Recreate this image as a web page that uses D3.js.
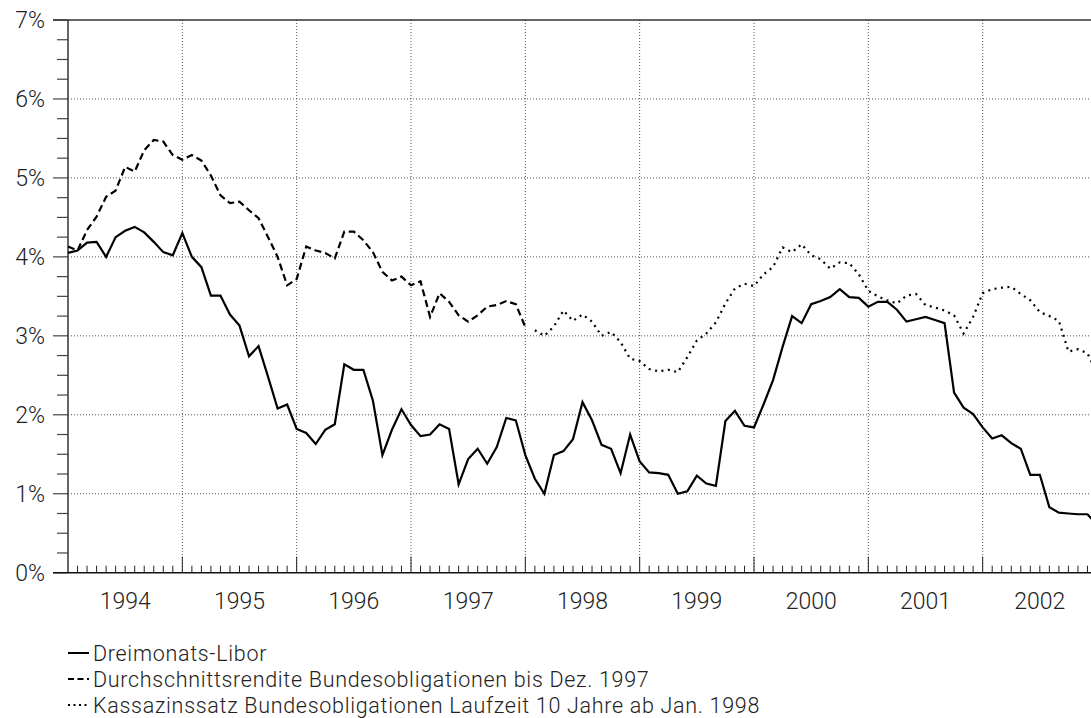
<!DOCTYPE html>
<html>
<head>
<meta charset="utf-8">
<script src="https://cdn.jsdelivr.net/npm/d3@7"></script>
<style>
  body { margin: 0; background: #fff; }
  text { font-family: Roboto, "Liberation Sans", sans-serif; font-weight: 300; fill: #222; }
</style>
</head>
<body>
<svg id="chart"></svg>
<script>
const W = 1091, H = 718;

// monatswerte ab Jan. 1994 (Index 0) bis Jan. 2003 (Index 108)
const liborValues = [
  4.05, 4.08, 4.18, 4.19, 4.00, 4.25, 4.33, 4.38, 4.31, 4.19, 4.06, 4.02,
  4.30, 4.00, 3.87, 3.51, 3.51, 3.27, 3.13, 2.74, 2.87, 2.48, 2.08, 2.13,
  1.82, 1.77, 1.63, 1.81, 1.88, 2.64, 2.57, 2.57, 2.18, 1.49, 1.81, 2.07,
  1.87, 1.73, 1.75, 1.88, 1.82, 1.12, 1.44, 1.57, 1.38, 1.59, 1.96, 1.93,
  1.49, 1.19, 1.00, 1.49, 1.54, 1.69, 2.16, 1.93, 1.62, 1.57, 1.26, 1.75,
  1.41, 1.27, 1.26, 1.24, 1.00, 1.03, 1.23, 1.13, 1.10, 1.92, 2.05, 1.86,
  1.84, 2.13, 2.44, 2.86, 3.25, 3.16, 3.40, 3.44, 3.49, 3.59, 3.49, 3.48,
  3.37, 3.43, 3.43, 3.33, 3.18, 3.21, 3.24, 3.20, 3.16, 2.28, 2.09, 2.01,
  1.84, 1.70, 1.74, 1.64, 1.57, 1.24, 1.24, 0.83, 0.76, 0.75, 0.74, 0.74,
  0.61
];
const bondStart = 0;
const bondValues = [
  4.13, 4.08, 4.34, 4.51, 4.76, 4.84, 5.14, 5.08, 5.35, 5.48, 5.46, 5.29,
  5.23, 5.29, 5.22, 5.03, 4.78, 4.68, 4.70, 4.59, 4.49, 4.25, 4.00, 3.64,
  3.72, 4.13, 4.08, 4.05, 3.98, 4.32, 4.32, 4.21, 4.06, 3.81, 3.70, 3.75,
  3.64, 3.69, 3.24, 3.54, 3.43, 3.26, 3.18, 3.26, 3.37, 3.39, 3.44, 3.40,
  3.11
];
const kassaStart = 49;
const kassaValues = [
  3.07, 3.00, 3.12, 3.32, 3.19, 3.27, 3.18, 3.00, 3.05, 2.92, 2.71,
  2.68, 2.58, 2.55, 2.57, 2.54, 2.73, 2.94, 3.03, 3.17, 3.41, 3.60, 3.66,
  3.63, 3.78, 3.87, 4.12, 4.06, 4.16, 4.02, 3.97, 3.85, 3.93, 3.92, 3.78,
  3.57, 3.50, 3.45, 3.41, 3.51, 3.53, 3.39, 3.36, 3.32, 3.26, 3.03, 3.24,
  3.54, 3.59, 3.61, 3.62, 3.53, 3.45, 3.30, 3.25, 3.19, 2.80, 2.83, 2.78,
  2.52
];
const yearLabels = ["1994", "1995", "1996", "1997", "1998", "1999", "2000", "2001", "2002"];
const yTickValues = [0, 1, 2, 3, 4, 5, 6, 7];
const legendLabels = [
  "Dreimonats-Libor",
  "Durchschnittsrendite Bundesobligationen bis Dez. 1997",
  "Kassazinssatz Bundesobligationen Laufzeit 10 Jahre ab Jan. 1998"
];

var margin = { top: 20, left: 68, bottom: 572.7 };
var svg = d3.select("#chart").attr("width", W).attr("height", H);

var xscale = d3.scaleLinear().domain([0, 108]).range([margin.left, 1097]);
var yscale = d3.scaleLinear().domain([0, 7]).range([margin.bottom, margin.top]);

var gridColor = "#555";

// horizontale gitterlinien
svg.append("g").selectAll("line")
  .data(yTickValues.filter(d => d > 0 && d < 7))
  .enter().append("line")
  .attr("x1", margin.left).attr("x2", W)
  .attr("y1", d => yscale(d)).attr("y2", d => yscale(d))
  .attr("stroke", gridColor).attr("stroke-width", 1)
  .attr("stroke-dasharray", "1,2");

// vertikale gitterlinien (Jahresanfang)
svg.append("g").selectAll("line")
  .data(d3.range(1, yearLabels.length))
  .enter().append("line")
  .attr("x1", d => xscale(d * 12)).attr("x2", d => xscale(d * 12))
  .attr("y1", margin.top).attr("y2", margin.bottom)
  .attr("stroke", gridColor).attr("stroke-width", 1)
  .attr("stroke-dasharray", "1,2");

// y-achse mit ticks nach links
var yMinor = d3.range(0, 7.01, 0.25);
svg.append("g").selectAll("line")
  .data(yMinor)
  .enter().append("line")
  .attr("x1", d => (d % 1 === 0 ? 53 : 57)).attr("x2", margin.left)
  .attr("y1", d => yscale(d)).attr("y2", d => yscale(d))
  .attr("stroke", "#444").attr("stroke-width", 1.2);

svg.append("line")
  .attr("x1", margin.left).attr("x2", margin.left)
  .attr("y1", margin.top).attr("y2", margin.bottom)
  .attr("stroke", "#333").attr("stroke-width", 1.5);

// oberer rahmen
svg.append("line")
  .attr("x1", 53).attr("x2", W)
  .attr("y1", margin.top).attr("y2", margin.top)
  .attr("stroke", "#333").attr("stroke-width", 1.6);

// x-achse
svg.append("line")
  .attr("x1", 53).attr("x2", W)
  .attr("y1", margin.bottom).attr("y2", margin.bottom)
  .attr("stroke", "#111").attr("stroke-width", 1.6);

svg.append("g").selectAll("line")
  .data(d3.range(1, 108))
  .enter().append("line")
  .attr("x1", d => xscale(d)).attr("x2", d => xscale(d))
  .attr("y1", margin.bottom).attr("y2", d => margin.bottom - (d % 12 === 0 ? 16 : 7))
  .attr("stroke", "#222").attr("stroke-width", 1);

// beschriftungen
svg.append("g").selectAll("text")
  .data(yTickValues)
  .enter().append("text")
  .attr("x", 45).attr("y", d => yscale(d))
  .attr("dy", "0.36em")
  .attr("text-anchor", "end")
  .attr("font-size", 23)
  .text(d => d + "%");

svg.append("g").selectAll("text")
  .data(yearLabels)
  .enter().append("text")
  .attr("x", (d, i) => xscale(i * 12 + 6)).attr("y", 601)
  .attr("dy", "0.36em")
  .attr("text-anchor", "middle")
  .attr("font-size", 23)
  .text(d => d);

// linien
var series = [
  { values: liborValues, start: 0, dash: null, width: 2.2 },
  { values: bondValues, start: bondStart, dash: "7,4", width: 2.2 },
  { values: kassaValues, start: kassaStart, dash: "2,4.5", width: 2.2 }
];

series.forEach(function (s) {
  var line = d3.line()
    .x((d, i) => xscale(s.start + i))
    .y(d => yscale(d));
  svg.append("path")
    .datum(s.values)
    .attr("d", line)
    .attr("fill", "none")
    .attr("stroke", "#000")
    .attr("stroke-width", s.width)
    .attr("stroke-linejoin", "miter")
    .attr("stroke-dasharray", s.dash);
});

// legende
var legendY = [653, 679, 705];
var legendDash = [null, "6,3.5", "2,3.5"];
var legend = svg.append("g");
legendLabels.forEach(function (label, i) {
  legend.append("line")
    .attr("x1", 68).attr("x2", 89)
    .attr("y1", legendY[i]).attr("y2", legendY[i])
    .attr("stroke", "#000").attr("stroke-width", 2)
    .attr("stroke-dasharray", legendDash[i]);
  legend.append("text")
    .attr("x", 93).attr("y", legendY[i])
    .attr("dy", "0.36em")
    .attr("font-size", 21.5)
    .attr("letter-spacing", 0.7)
    .text(label);
});
</script>
</body>
</html>
